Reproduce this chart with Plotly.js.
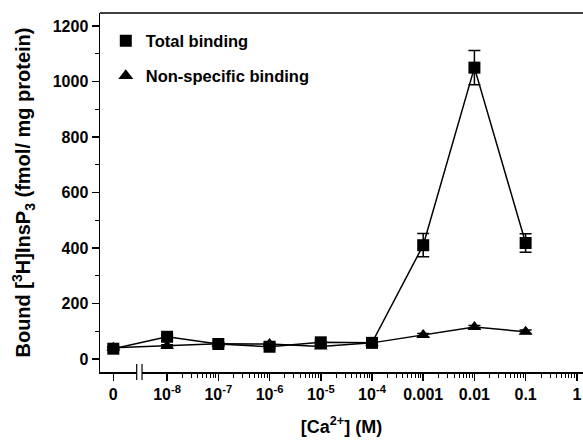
<!DOCTYPE html>
<html>
<head>
<meta charset="utf-8">
<script src="https://cdn.plot.ly/plotly-3.0.1.min.js"></script>
<style>html,body{margin:0;padding:0;background:#fff;}#chart{width:583px;height:444px;}</style>
</head>
<body>
<div id="chart"></div>
<script>
// Calcium concentrations (M); 0 is drawn at a stand-in position left of the axis break
const calcium = [0, 1e-8, 1e-7, 1e-6, 1e-5, 1e-4, 0.001, 0.01, 0.1];
const totalBinding = [37, 80, 54, 44, 60, 58, 410, 1050, 418];
const totalErr = [6, 6, 5, 5, 5, 5, 42, 62, 33];
const nonSpecific = [40, 47, 55, 54, 45, 58, 86, 115, 98];
const nonSpecErr = [4, 4, 4, 4, 4, 4, 6, 6, 6];
const tickValues = [0, 1e-8, 1e-7, 1e-6, 1e-5, 1e-4, 0.001, 0.01, 0.1, 1];
const tickLabels = ['0', '10<sup>-8</sup>', '10<sup>-7</sup>', '10<sup>-6</sup>', '10<sup>-5</sup>', '10<sup>-4</sup>', '0.001', '0.01', '0.1', '1'];
const seriesNames = ['Total binding', 'Non-specific binding'];

const ZERO_POS = Math.pow(10, -9.05);
const toAxis = v => (v === 0 ? ZERO_POS : v);
const xs = calcium.map(toAxis);

const minorVals = [];
for (let e = -8; e < 0; e++) for (let k = 2; k <= 9; k++) minorVals.push(k * Math.pow(10, e));

const FAM = 'Liberation Sans, Arial, sans-serif';
const boldFont = size => ({family: FAM, size: size, color: '#000', weight: 'bold'});

const traces = [
  {x: xs, y: nonSpecific, mode: 'lines+markers', showlegend: false,
   line: {color: '#000', width: 1.5},
   marker: {symbol: 'triangle-up', size: 12, color: '#000'},
   error_y: {type: 'data', array: nonSpecErr, color: '#000', thickness: 1.5, width: 6}},
  {x: xs, y: totalBinding, mode: 'lines+markers', showlegend: false,
   line: {color: '#000', width: 1.5},
   marker: {symbol: 'square', size: 12, color: '#000'},
   error_y: {type: 'data', array: totalErr, color: '#000', thickness: 1.5, width: 6}},
  {x: [null], y: [null], mode: 'markers', name: seriesNames[0], legend: 'legend',
   marker: {symbol: 'square', size: 12, color: '#000'}},
  {x: [null], y: [null], mode: 'markers', name: seriesNames[1], legend: 'legend2',
   marker: {symbol: 'triangle-up', size: 13, color: '#000'}}
];

const legendBase = {xanchor: 'left', yanchor: 'middle', bgcolor: 'rgba(0,0,0,0)',
                    font: boldFont(16.5), itemwidth: 30};

const layout = {
  width: 583, height: 444,
  margin: {l: 100, r: 0, t: 13, b: 72},
  paper_bgcolor: '#fff', plot_bgcolor: '#fff',
  font: {family: FAM, size: 13, color: '#000'},
  showlegend: true,
  legend: Object.assign({}, legendBase, {x: 0.012, y: 0.922}),
  legend2: Object.assign({}, legendBase, {x: 0.012, y: 0.8245}),
  xaxis: {
    type: 'log', range: [-9.31, 0.12],
    tickmode: 'array', tickvals: tickValues.map(toAxis), ticktext: tickLabels,
    ticks: 'outside', ticklen: 7, tickwidth: 1.5, tickcolor: '#000',
    showline: true, linecolor: '#000', linewidth: 1.5, mirror: false,
    showgrid: false, zeroline: false,
    tickfont: boldFont(16),
    minor: {tickmode: 'array', tickvals: minorVals, ticks: 'outside', ticklen: 4, tickwidth: 1, tickcolor: '#000', showgrid: false},
    title: {text: '[Ca<sup>2+</sup>] (M)', font: boldFont(18), standoff: 18}
  },
  yaxis: {
    range: [-47, 1247],
    tickmode: 'array', tickvals: [0, 200, 400, 600, 800, 1000, 1200],
    ticks: 'outside', ticklen: 7, tickwidth: 1.5, tickcolor: '#000',
    showline: true, linecolor: '#000', linewidth: 1.5, mirror: false,
    showgrid: false, zeroline: false,
    tickfont: boldFont(16),
    minor: {tickmode: 'array', tickvals: [100, 300, 500, 700, 900, 1100], ticks: 'outside', ticklen: 4, tickwidth: 1, tickcolor: '#000', showgrid: false},
    title: {text: 'Bound [<sup>3</sup>H]InsP<sub>3</sub> (fmol/ mg protein)', font: boldFont(20), standoff: 16}
  },
  shapes: [
    {type: 'line', xref: 'paper', yref: 'paper', x0: 0, x1: 1, y0: 1, y1: 1, line: {color: '#000', width: 1.5}},
    {type: 'rect', xref: 'paper', yref: 'paper', x0: 0.076, x1: 0.087, y0: -0.012, y1: 0.012, fillcolor: '#fff', line: {width: 0}, layer: 'above'},
    {type: 'line', xref: 'paper', yref: 'paper', x0: 0.076, x1: 0.076, y0: -0.022, y1: 0.022, line: {color: '#000', width: 1.2}, layer: 'above'},
    {type: 'line', xref: 'paper', yref: 'paper', x0: 0.087, x1: 0.087, y0: -0.022, y1: 0.022, line: {color: '#000', width: 1.2}, layer: 'above'}
  ]
};

Plotly.newPlot('chart', traces, layout, {displayModeBar: false, staticPlot: true});
</script>
</body>
</html>
